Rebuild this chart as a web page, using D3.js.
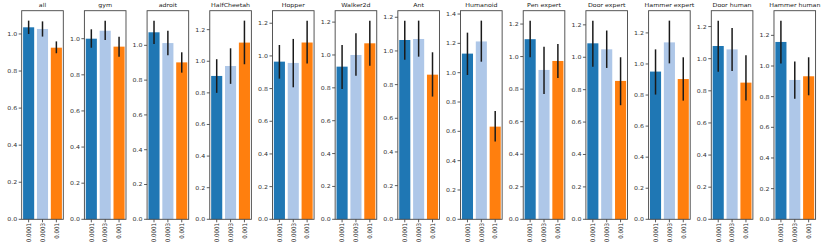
<!DOCTYPE html>
<html>
<head>
<meta charset="utf-8">
<script src="https://cdn.jsdelivr.net/npm/d3@7"></script>
<style>
  body { margin: 0; background: #fff; }
  svg { display: block; font-family: 'DejaVu Sans', sans-serif; }
</style>
</head>
<body>
<svg width="830" height="245"></svg>
<script>
const svg = d3.select('svg')

// data
const envs = ['all', 'gym', 'adroit', 'HalfCheetah', 'Hopper', 'Walker2d', 'Ant',
    'Humanoid', 'Pen expert', 'Door expert', 'Hammer expert', 'Door human', 'Hammer human']
const lrs = ['0.0001', '0.0003', '0.001']
const colors = ['#1f77b4', '#aec7e8', '#ff7f0e']

const meanScores = [
    [1.036, 1.027, 0.926],
    [1.000, 1.044, 0.956],
    [1.075, 1.013, 0.902],
    [0.907, 0.970, 1.118],
    [0.965, 0.957, 1.082],
    [0.929, 1.000, 1.071],
    [1.065, 1.071, 0.859],
    [1.130, 1.213, 0.632],
    [1.107, 0.918, 0.973],
    [1.086, 1.049, 0.854],
    [0.951, 1.139, 0.903],
    [1.079, 1.058, 0.851],
    [1.157, 0.909, 0.933]
]
const errLow = [
    [1.000, 0.986, 0.896],
    [0.950, 0.993, 0.900],
    [1.008, 0.943, 0.843],
    [0.800, 0.857, 0.981],
    [0.861, 0.808, 0.953],
    [0.793, 0.874, 0.935],
    [0.947, 0.966, 0.729],
    [0.984, 1.075, 0.530],
    [0.996, 0.770, 0.869],
    [0.942, 0.934, 0.704],
    [0.803, 1.004, 0.764],
    [0.919, 0.923, 0.739],
    [1.017, 0.787, 0.809]
]
const errHigh = [
    [1.072, 1.068, 0.960],
    [1.052, 1.100, 1.011],
    [1.142, 1.084, 0.960],
    [1.013, 1.082, 1.257],
    [1.067, 1.104, 1.216],
    [1.061, 1.132, 1.209],
    [1.180, 1.180, 0.992],
    [1.273, 1.355, 0.739],
    [1.221, 1.061, 1.078],
    [1.226, 1.165, 1.000],
    [1.094, 1.279, 1.043],
    [1.237, 1.191, 1.021],
    [1.296, 1.030, 1.057]
]

const left0 = 21.7, step = 62.69, pw = 41.6
const plotTop = 10.7, plotBottom = 219.3
const sy = 0.87 // text looks squashed vertically in the reference

const x = d3.scaleLinear().domain([-0.5, 2.5]).range([0, pw])

envs.forEach((env, k) => {
    const g = svg.append('g').attr('transform', `translate(${left0 + k * step},0)`)
    const rows = lrs.map((lr, i) => ({
        lr, i, v: meanScores[k][i], lo: errLow[k][i], hi: errHigh[k][i]
    }))
    const ymax = d3.max(rows, d => d.hi) * 1.05
    const y = d3.scaleLinear().domain([0, ymax]).range([plotBottom, plotTop])

    g.selectAll('rect.bar')
        .data(rows)
        .enter()
        .append('rect')
            .attr('class', 'bar')
            .attr('x', d => x(d.i - 0.4))
            .attr('width', x(0.8) - x(0))
            .attr('y', d => y(d.v))
            .attr('height', d => y(0) - y(d.v))
            .attr('fill', d => colors[d.i])

    g.selectAll('line.err')
        .data(rows)
        .enter()
        .append('line')
            .attr('x1', d => x(d.i))
            .attr('x2', d => x(d.i))
            .attr('y1', d => y(d.lo))
            .attr('y2', d => y(d.hi))
            .attr('stroke', '#1a1a1a')
            .attr('stroke-width', 1.5)

    // y ticks
    const yticks = d3.range(0, ymax + 1e-9, 0.2)
    const yt = g.selectAll('g.yt').data(yticks).enter().append('g')
        .attr('transform', d => `translate(0,${y(d)})`)
    yt.append('line').attr('x1', -3).attr('x2', 0).attr('stroke', '#333').attr('stroke-width', 0.8)
    yt.append('text')
        .attr('transform', `translate(-4.5,0) scale(1,${sy})`)
        .attr('dy', '0.36em')
        .attr('text-anchor', 'end')
        .attr('font-size', 6.3)
        .attr('fill', '#333')
        .text(d3.format('.1f'))

    // x ticks
    const xt = g.selectAll('g.xt').data(rows).enter().append('g')
        .attr('transform', d => `translate(${x(d.i)},${plotBottom})`)
    xt.append('line').attr('y1', 0).attr('y2', 3).attr('stroke', '#333').attr('stroke-width', 0.8)
    xt.append('text')
        .attr('transform', `translate(0,3.8) rotate(-90) scale(${sy},1)`)
        .attr('dy', '0.36em')
        .attr('text-anchor', 'end')
        .attr('font-size', 6.3)
        .attr('fill', '#333')
        .text(d => d.lr)

    g.append('rect')
        .attr('x', 0).attr('y', plotTop)
        .attr('width', pw).attr('height', plotBottom - plotTop)
        .attr('fill', 'none')
        .attr('stroke', '#444')
        .attr('stroke-width', 0.9)

    g.append('text')
        .attr('transform', `translate(${pw / 2},7.4) scale(1,${sy})`)
        .attr('text-anchor', 'middle')
        .attr('font-size', 6.3)
        .attr('fill', '#222')
        .text(env)
})
</script>
</body>
</html>
